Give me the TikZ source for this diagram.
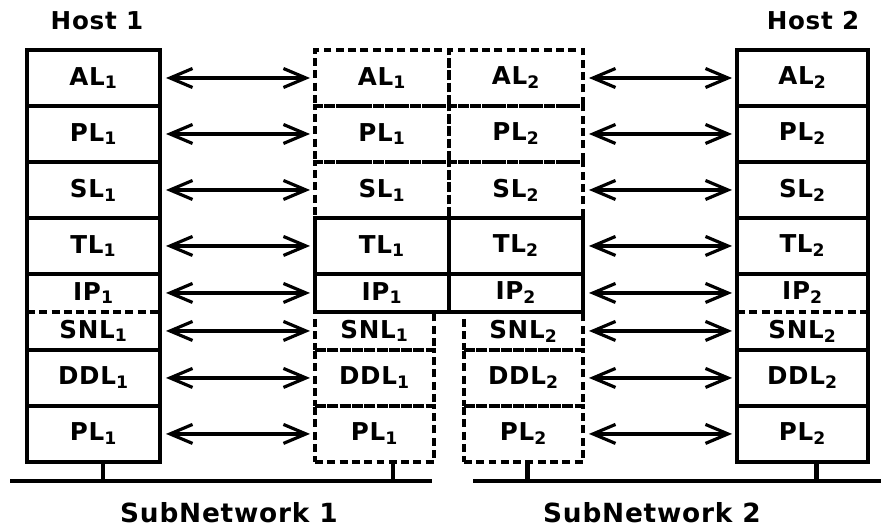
\documentclass[tikz,border=0pt]{standalone}
\usepackage{fontspec}
\setmainfont{DejaVu Sans}[LetterSpace=3]
\usetikzlibrary{arrows.meta,positioning}
\newcommand{\lsub}[1]{\textsubscript{#1}}

\begin{document}
\begin{tikzpicture}[
  x=0.02cm, y=-0.02cm,
  font=\bfseries\fontsize{14}{16}\selectfont,
  layer/.style={draw, line width=2pt, outer sep=0pt, inner sep=0pt, minimum width=2.66cm, minimum height=1.12cm},
  halfrow/.style={minimum height=0.76cm},
  narrow/.style={minimum width=2.38cm},
  dashbox/.style={layer, dash pattern=on 4.5pt off 2.5pt},
  link/.style={{Straight Barb[length=0.45cm,width=0.38cm]}-{Straight Barb[length=0.45cm,width=0.38cm]}, line width=1.8pt, shorten <=0.12cm, shorten >=0.1cm},
  net/.style={line width=2.4pt},
  title/.style={anchor=base, font=\bfseries\fontsize{14}{16}\selectfont},
  netname/.style={anchor=base, font=\bfseries\fontsize{15}{18}\selectfont}
]
\useasboundingbox (0,0) rectangle (881,527);

\node[layer, anchor=north west] (h1al) at (27,50) {AL\lsub1};
\node[layer, below=0pt of h1al] (h1pl) {PL\lsub1};
\node[layer, below=0pt of h1pl] (h1sl) {SL\lsub1};
\node[layer, below=0pt of h1sl] (h1tl) {TL\lsub1};
\node[layer, halfrow, draw=none, below=0pt of h1tl] (h1ip) {IP\lsub1};
\node[layer, halfrow, draw=none, below=0pt of h1ip] (h1snl) {SNL\lsub1};
\node[layer, below=0pt of h1snl] (h1ddl) {DDL\lsub1};
\node[layer, below=0pt of h1ddl] (h1phy) {PL\lsub1};
\draw[line width=2pt] (h1ip.north west) -- (h1snl.south west) (h1ip.north east) -- (h1snl.south east);
\draw[line width=2pt, dash pattern=on 4.5pt off 2.5pt] (h1ip.south west) -- (h1ip.south east);

\node[dashbox, minimum width=2.68cm, anchor=north west] (r1al) at (315,50) {AL\lsub1};
\node[dashbox, minimum width=2.68cm, below=0pt of r1al] (r1pl) {PL\lsub1};
\node[dashbox, minimum width=2.68cm, below=0pt of r1pl] (r1sl) {SL\lsub1};
\node[layer, minimum width=2.68cm, below=0pt of r1sl] (r1tl) {TL\lsub1};
\node[layer, minimum width=2.68cm, halfrow, below=0pt of r1tl] (r1ip) {IP\lsub1};
\node[dashbox, minimum width=2.68cm, right=0pt of r1al] (r2al) {AL\lsub2};
\node[dashbox, minimum width=2.68cm, below=0pt of r2al] (r2pl) {PL\lsub2};
\node[dashbox, minimum width=2.68cm, below=0pt of r2pl] (r2sl) {SL\lsub2};
\node[layer, minimum width=2.68cm, below=0pt of r2sl] (r2tl) {TL\lsub2};
\node[layer, minimum width=2.68cm, halfrow, below=0pt of r2tl] (r2ip) {IP\lsub2};

\node[dashbox, narrow, halfrow, anchor=north west] (r1snl) at (r1ip.south west) {SNL\lsub1};
\node[dashbox, narrow, below=0pt of r1snl] (r1ddl) {DDL\lsub1};
\node[dashbox, narrow, below=0pt of r1ddl] (r1phy) {PL\lsub1};
\node[dashbox, narrow, halfrow, anchor=north east] (r2snl) at (r2ip.south east) {SNL\lsub2};
\node[dashbox, narrow, below=0pt of r2snl] (r2ddl) {DDL\lsub2};
\node[dashbox, narrow, below=0pt of r2ddl] (r2phy) {PL\lsub2};

\node[layer, minimum width=2.62cm, anchor=north east] (h2al) at (868,50) {AL\lsub2};
\node[layer, minimum width=2.62cm, below=0pt of h2al] (h2pl) {PL\lsub2};
\node[layer, minimum width=2.62cm, below=0pt of h2pl] (h2sl) {SL\lsub2};
\node[layer, minimum width=2.62cm, below=0pt of h2sl] (h2tl) {TL\lsub2};
\node[layer, minimum width=2.62cm, halfrow, draw=none, below=0pt of h2tl] (h2ip) {IP\lsub2};
\node[layer, minimum width=2.62cm, halfrow, draw=none, below=0pt of h2ip] (h2snl) {SNL\lsub2};
\node[layer, minimum width=2.62cm, below=0pt of h2snl] (h2ddl) {DDL\lsub2};
\node[layer, minimum width=2.62cm, below=0pt of h2ddl] (h2phy) {PL\lsub2};
\draw[line width=2pt] (h2ip.north west) -- (h2snl.south west) (h2ip.north east) -- (h2snl.south east);
\draw[line width=2pt, dash pattern=on 4.5pt off 2.5pt] (h2ip.south west) -- (h2ip.south east);

\node[title] (host1) at (97,30) {Host 1};
\node[title] (host2) at (813,30) {Host 2};

\draw[link] (h1al) -- (r1al);
\draw[link] (h1pl) -- (r1pl);
\draw[link] (h1sl) -- (r1sl);
\draw[link] (h1tl) -- (r1tl);
\draw[link] (h1ip) -- (r1ip);
\draw[link] (h1snl) -- (r1snl);
\draw[link] (h1ddl) -- (r1ddl);
\draw[link] (h1phy) -- (r1phy);
\draw[link] (r2al) -- (h2al);
\draw[link] (r2pl) -- (h2pl);
\draw[link] (r2sl) -- (h2sl);
\draw[link] (r2tl) -- (h2tl);
\draw[link] (r2ip) -- (h2ip);
\draw[link] (r2snl) -- (h2snl);
\draw[link] (r2ddl) -- (h2ddl);
\draw[link] (r2phy) -- (h2phy);

\coordinate (n1a) at (10,481);
\coordinate (n1b) at (432,481);
\coordinate (n2a) at (473,481);
\coordinate (n2b) at (881,481);
\draw[net] (n1a) -- (n1b);
\draw[net] (n2a) -- (n2b);
\draw[net] ([xshift=0.19cm]h1phy.south) -- ([xshift=0.19cm]h1phy.south |- n1a);
\draw[net] ([xshift=0.37cm]r1phy.south) -- ([xshift=0.37cm]r1phy.south |- n1a);
\draw[net] ([xshift=0.08cm]r2phy.south) -- ([xshift=0.08cm]r2phy.south |- n2a);
\draw[net] ([xshift=0.28cm]h2phy.south) -- ([xshift=0.28cm]h2phy.south |- n2a);

\node[netname] (sub1) at (229,522) {SubNetwork 1};
\node[netname] (sub2) at (652,522) {SubNetwork 2};
\end{tikzpicture}
\end{document}
